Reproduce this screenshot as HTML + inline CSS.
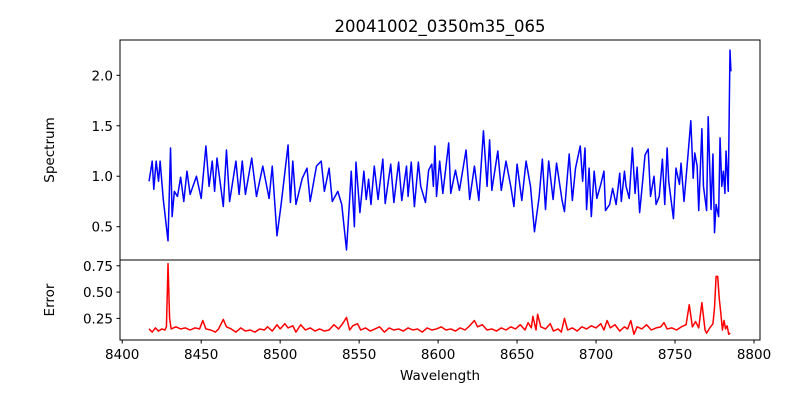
<!DOCTYPE html>
<html><head><meta charset="utf-8"><style>
body{margin:0;background:#fff;width:800px;height:400px;overflow:hidden}
svg text{font-family:"DejaVu Sans","Liberation Sans",sans-serif;fill:#000}
</style></head><body>
<svg id="chart" width="800" height="400" xmlns="http://www.w3.org/2000/svg">
<rect width="800" height="400" fill="#fff"/>
<text x="440" y="32" font-size="16.5" text-anchor="middle">20041002_0350m35_065</text>
<text transform="translate(54,150) rotate(-90)" font-size="13.5" text-anchor="middle">Spectrum</text>
<text transform="translate(54,300) rotate(-90)" font-size="13.5" text-anchor="middle">Error</text>
<text x="440" y="380" font-size="13.5" text-anchor="middle">Wavelength</text>
<g id="topPanel"></g>
<g id="botPanel"></g>
</svg>
<script>
const fluxW=[8417,8419,8420,8421.5,8423,8424,8426,8429,8430.6,8431.6,8433,8435,8437,8439,8441,8443,8447,8450,8453,8455,8457,8458.5,8460,8464,8466,8468,8470,8472,8474,8476,8478,8482,8485,8489,8493,8495,8498,8500.6,8505,8506.5,8508,8510,8514,8517,8519,8523,8526,8528,8531,8533,8536.5,8539,8542,8544,8545,8547,8548,8550.5,8553,8554.5,8556,8557.5,8559.6,8562,8565,8566.5,8570,8572,8575,8577,8580,8581,8583,8585,8587.5,8589,8592,8594,8596,8597,8598,8599,8601,8603,8606.7,8608,8611,8613.5,8617.7,8620,8623,8625.8,8628.7,8631,8632.6,8634,8637.8,8640,8643,8646,8648,8650,8653,8655.7,8658.5,8661,8664,8666,8668,8670,8672.8,8675,8678.5,8680,8683,8685,8687,8690,8691.5,8693,8694,8695.6,8697,8698.8,8700.5,8703,8705,8706,8708.6,8710.5,8712.7,8715,8716,8718,8719,8721,8723,8724.7,8726,8727.6,8729.5,8731,8733,8734.5,8736.7,8738,8740,8742,8743.5,8745,8746,8749,8750.6,8752.8,8753.8,8755.7,8758,8760,8761.5,8762.5,8764,8765,8767,8768,8770,8771,8772.8,8774,8775,8776,8777.6,8778.5,8779.6,8780.6,8781.6,8782.3,8783.7,8784.8,8785.4];
const fluxV=[.95,1.15,.87,1.15,.95,1.15,.77,.36,1.28,.6,.85,.8,.99,.75,1.05,.82,1.0,.78,1.3,.9,1.15,.85,1.18,.7,1.26,.75,.95,1.15,.82,1.15,.82,1.18,.8,1.1,.78,1.1,.41,.72,1.31,.74,1.15,.72,.98,1.08,.75,1.1,1.15,.85,1.08,.75,.85,.72,.27,.77,1.05,.5,1.14,.64,1.05,.77,.97,.72,1.1,.77,1.17,.73,1.12,.74,1.14,.76,1.1,.8,1.14,.7,1.14,.9,.74,1.06,1.12,.9,1.3,.8,1.15,.83,1.33,.83,1.06,.86,1.26,.77,1.1,.76,1.45,.9,1.36,.86,1.25,.86,1.15,.9,.7,1.12,.76,1.15,.9,.45,.8,1.17,.67,1.15,.77,1.13,.76,.65,1.22,.76,1.08,1.3,.95,1.28,.67,1.08,.6,1.05,.78,.92,1.05,.66,.72,.88,.72,1.03,.75,1.05,.9,.78,1.28,.83,1.09,.64,.95,1.21,1.27,.8,1.0,.72,.8,1.17,.72,1.28,.95,.58,1.08,.92,1.13,.75,1.17,1.55,.98,1.23,1.1,.66,1.47,.9,.66,1.59,.67,1.22,.44,.72,.6,1.38,.9,1.05,.83,1.25,.85,2.25,2.04];
const errW=[8417,8419,8421,8423,8425,8427,8428,8429,8430,8431,8434,8437,8440,8443,8446,8449,8451,8453,8456,8459,8461,8464,8466,8469,8472,8475,8478,8481,8484,8487,8490,8492,8495,8498,8500,8503,8505,8508,8510,8513,8516,8519,8522,8525,8528,8531,8534,8537,8540,8542,8544,8546,8549,8551,8554,8557,8560,8563,8566,8569,8572,8575,8578,8581,8584,8587,8590,8593,8596,8599,8602,8605,8608,8611,8614,8617,8620,8623,8625,8628,8631,8634,8637,8640,8643,8646,8649,8652,8655,8657,8659,8660,8662,8663,8665,8668,8671,8673,8676,8678,8680,8682,8685,8688,8691,8694,8697,8700,8703,8705,8707,8709,8712,8715,8718,8720,8722,8724,8726,8729,8732,8735,8738,8741,8743,8745,8748,8751,8754,8757,8759,8761,8763,8765,8767,8769,8770,8772,8774,8775,8776,8777,8778,8779,8780,8781,8782,8783,8784,8785];
const errV=[.15,.12,.16,.13,.15,.14,.17,.77,.25,.15,.17,.15,.16,.14,.16,.15,.23,.15,.14,.12,.15,.24,.17,.15,.12,.16,.13,.14,.12,.15,.14,.17,.13,.19,.15,.20,.16,.18,.12,.19,.14,.16,.13,.15,.13,.14,.19,.15,.21,.26,.14,.18,.20,.14,.16,.13,.15,.17,.12,.16,.14,.15,.13,.16,.14,.15,.12,.16,.14,.15,.17,.14,.15,.13,.16,.14,.18,.23,.17,.19,.14,.15,.13,.16,.14,.17,.15,.19,.14,.21,.16,.27,.14,.29,.17,.15,.20,.13,.15,.12,.25,.14,.16,.13,.17,.15,.18,.16,.20,.14,.23,.16,.19,.13,.17,.15,.23,.10,.17,.15,.19,.14,.16,.17,.21,.15,.16,.14,.17,.19,.38,.17,.22,.16,.40,.14,.11,.16,.20,.35,.65,.65,.44,.30,.14,.23,.15,.18,.10,.11];
const xTicks=[8400,8450,8500,8550,8600,8650,8700,8750,8800];
const topTicks=[0.5,1.0,1.5,2.0];
const topTickLabels=["0.5","1.0","1.5","2.0"];
const botTicks=[0.25,0.5,0.75];
const botTickLabels=["0.25","0.50","0.75"];

const L=120,R=760,T1=40,B1=260,T2=260,B2=340;
const xmin=8398.6,xmax=8803.8;
const X=w=>L+(w-xmin)/(xmax-xmin)*(R-L);
const Y1=v=>B1-(v-0.17)/(2.35-0.17)*(B1-T1);
const Y2=v=>B2-(v-0.045)/(0.805-0.045)*(B2-T2);
const NS="http://www.w3.org/2000/svg";
function mk(tag,parent,attrs){const e=document.createElementNS(NS,tag);for(const k in attrs)e.setAttribute(k,attrs[k]);parent.appendChild(e);return e;}
const topG=document.getElementById('topPanel'),botG=document.getElementById('botPanel');
const n1=Math.min(fluxW.length,fluxV.length),n2=Math.min(errW.length,errV.length);
const p1=mk('polyline',topG,{points:fluxW.slice(0,n1).map((w,i)=>X(w).toFixed(2)+','+Y1(fluxV[i]).toFixed(2)).join(' '),fill:'none',stroke:'#0000ff','stroke-width':1.5,'stroke-linejoin':'round'});


const p2=mk('polyline',botG,{points:errW.slice(0,n2).map((w,i)=>X(w).toFixed(2)+','+Y2(errV[i]).toFixed(2)).join(' '),fill:'none',stroke:'#ff0000','stroke-width':1.5,'stroke-linejoin':'round'});


const f1=mk('rect',topG,{x:L,y:T1,width:R-L,height:B1-T1,fill:'none',stroke:'#000','stroke-width':1});


const f2=mk('rect',botG,{x:L,y:T2,width:R-L,height:B2-T2,fill:'none',stroke:'#000','stroke-width':1});


topTicks.forEach((v,i)=>{const y=Y1(v);
 const t=mk('line',topG,{x1:L-3.5,x2:L,y1:y,y2:y,stroke:'#000'});
 
 
 const tx=mk('text',topG,{x:L-7,y:y+5,'font-size':13.5,'text-anchor':'end'});tx.textContent=topTickLabels[i];
 
 });
botTicks.forEach((v,i)=>{const y=Y2(v);
 const t=mk('line',botG,{x1:L-3.5,x2:L,y1:y,y2:y,stroke:'#000'});
 
 
 const tx=mk('text',botG,{x:L-7,y:y+5,'font-size':13.5,'text-anchor':'end'});tx.textContent=botTickLabels[i];
 
 });
xTicks.forEach(w=>{const x=X(w);
 const t=mk('line',botG,{x1:x,x2:x,y1:B2,y2:B2+3.5,stroke:'#000'});
 
 
 const tx=mk('text',botG,{x:x,y:B2+19,'font-size':13.5,'text-anchor':'middle'});tx.textContent=String(w);
 
 });
</script>
</body></html>
